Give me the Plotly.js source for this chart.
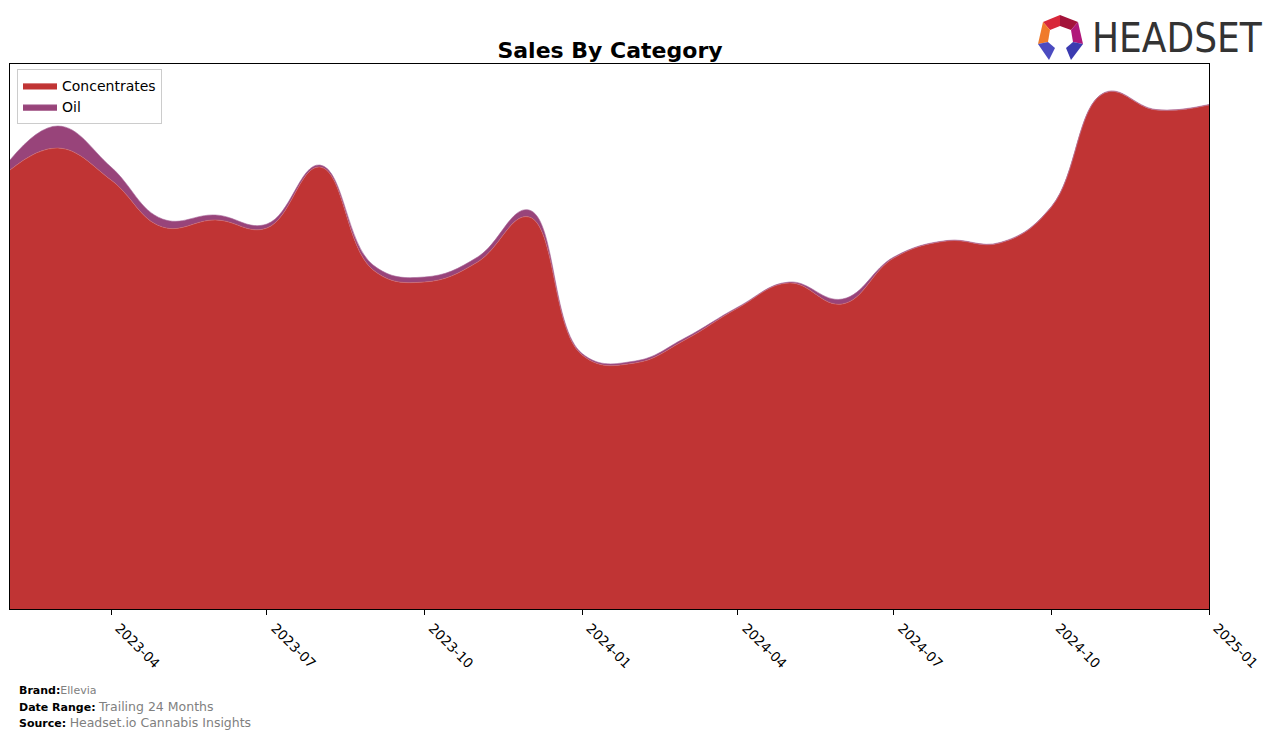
<!DOCTYPE html>
<html>
<head>
<meta charset="utf-8">
<script src="https://cdn.plot.ly/plotly-3.0.1.min.js"></script>
<style>html,body{margin:0;padding:0;background:#fff;}#chart{width:1276px;height:738px;}</style>
</head>
<body>
<div id="chart"></div>
<script>
const months = ['2023-02-01','2023-03-01','2023-04-01','2023-05-01','2023-06-01','2023-07-01','2023-08-01','2023-09-01','2023-10-01','2023-11-01','2023-12-01','2024-01-01','2024-02-01','2024-03-01','2024-04-01','2024-05-01','2024-06-01','2024-07-01','2024-08-01','2024-09-01','2024-10-01','2024-11-01','2024-12-01','2025-01-01'];
const concentrates = [439,461,429,382,389,381,442,339,327,347,392,254,246,269,301,326,305,351,368,366,402,516,499,504];
const oil = [10,22,13,8,5,4,2,5,5,5,7,1.5,2,2,1,1,5,1,0.5,0.5,0.5,0.5,0.5,0.5];
const tickVals = ['2023-04-01','2023-07-01','2023-10-01','2024-01-01','2024-04-01','2024-07-01','2024-10-01','2025-01-01'];
const tickText = ['2023-04','2023-07','2023-10','2024-01','2024-04','2024-07','2024-10','2025-01'];

const PL = 10, PR = 1209, PT = 64, PB = 609;
const px = x => (x - PL) / (PR - PL);
const py = y => (PB - y) / (PB - PT);
function poly(pts, color) {
  let d = pts.map((p, i) => (i ? 'L' : 'M') + px(p[0]).toFixed(5) + ',' + py(p[1]).toFixed(5)).join(' ') + ' Z';
  return {type: 'path', xref: 'paper', yref: 'paper', path: d, fillcolor: color, line: {width: 0}, layer: 'above'};
}

const traces = [
  {x: months, y: concentrates, name: 'Concentrates', type: 'scatter', mode: 'lines', stackgroup: 'one',
   line: {shape: 'spline', smoothing: 1.2, width: 0.6, color: '#d46a6a'}, fillcolor: '#c03434'},
  {x: months, y: oil, name: 'Oil', type: 'scatter', mode: 'lines', stackgroup: 'one',
   line: {shape: 'spline', smoothing: 1.2, width: 0.6, color: '#a8689a'}, fillcolor: '#98447a'}
];

const footFont = {family: 'DejaVu Sans', size: 11, color: '#000'};
const layout = {
  width: 1276, height: 738,
  margin: {l: PL, r: 1276 - PR, t: PT, b: 738 - PB, pad: 0},
  paper_bgcolor: '#fff', plot_bgcolor: '#fff',
  font: {family: 'DejaVu Sans', color: '#000'},
  title: {text: '<b>Sales By Category</b>', x: px(610), xanchor: 'center', xref: 'paper', y: 1 - 50 / 738, yanchor: 'middle', font: {family: 'DejaVu Sans', size: 22, color: '#000'}},
  showlegend: true,
  legend: {x: px(17), y: py(69), xanchor: 'left', yanchor: 'top', bgcolor: 'rgba(255,255,255,0.8)', bordercolor: '#cccccc', borderwidth: 1, font: {family: 'DejaVu Sans', size: 14, color: '#000'}, itemwidth: 34, tracegroupgap: 0, traceorder: 'normal'},
  xaxis: {type: 'date', range: ['2023-02-01', '2025-01-01'], tickvals: tickVals, ticktext: tickText, tickangle: 45, ticklabelshift: 8,
    ticks: 'outside', ticklen: 5, tickcolor: '#000', tickwidth: 1, showgrid: false, zeroline: false,
    showline: true, linecolor: '#000', linewidth: 1, mirror: true, tickfont: {family: 'DejaVu Sans', size: 13.5, color: '#000'}},
  yaxis: {range: [0, 545], showticklabels: false, ticks: '', showgrid: false, zeroline: false,
    showline: true, linecolor: '#000', linewidth: 1, mirror: true},
  annotations: [
    {xref: 'paper', yref: 'paper', x: px(17), y: py(690), xanchor: 'left', yanchor: 'middle', showarrow: false,
     text: '<b>Brand:</b><span style="color:#808080">Ellevia</span>', font: footFont},
    {xref: 'paper', yref: 'paper', x: px(17), y: py(706), xanchor: 'left', yanchor: 'middle', showarrow: false,
     text: '<b>Date Range:</b> <span style="color:#808080;font-size:12.5px">Trailing 24 Months</span>', font: footFont},
    {xref: 'paper', yref: 'paper', x: px(17), y: py(722), xanchor: 'left', yanchor: 'middle', showarrow: false,
     text: '<b>Source:</b> <span style="color:#808080;font-size:12.5px">Headset.io Cannabis Insights</span>', font: footFont},
    {xref: 'paper', yref: 'paper', x: px(1177), y: py(38), xanchor: 'center', yanchor: 'middle', showarrow: false,
     text: 'HEADSET', font: {family: 'DejaVu Sans Condensed, Liberation Sans Narrow, sans-serif', size: 40, color: '#333333'}}
  ],
  shapes: [
    poly([[1043,22],[1060,15],[1060,26],[1050,30]], '#d8283a'),
    poly([[1060,15],[1078,22],[1071,30],[1060,26]], '#a3133a'),
    poly([[1043,22],[1050,30],[1048,42],[1038,44]], '#f07a2a'),
    poly([[1078,22],[1083,44],[1073,42],[1071,30]], '#b0187a'),
    poly([[1038,44],[1048,42],[1055,48],[1049,60]], '#4b4bc0'),
    poly([[1083,44],[1073,42],[1066,48],[1071,60]], '#3b3bb0')
  ]
};
Plotly.newPlot('chart', traces, layout, {displayModeBar: false, staticPlot: true});
</script>
</body>
</html>
